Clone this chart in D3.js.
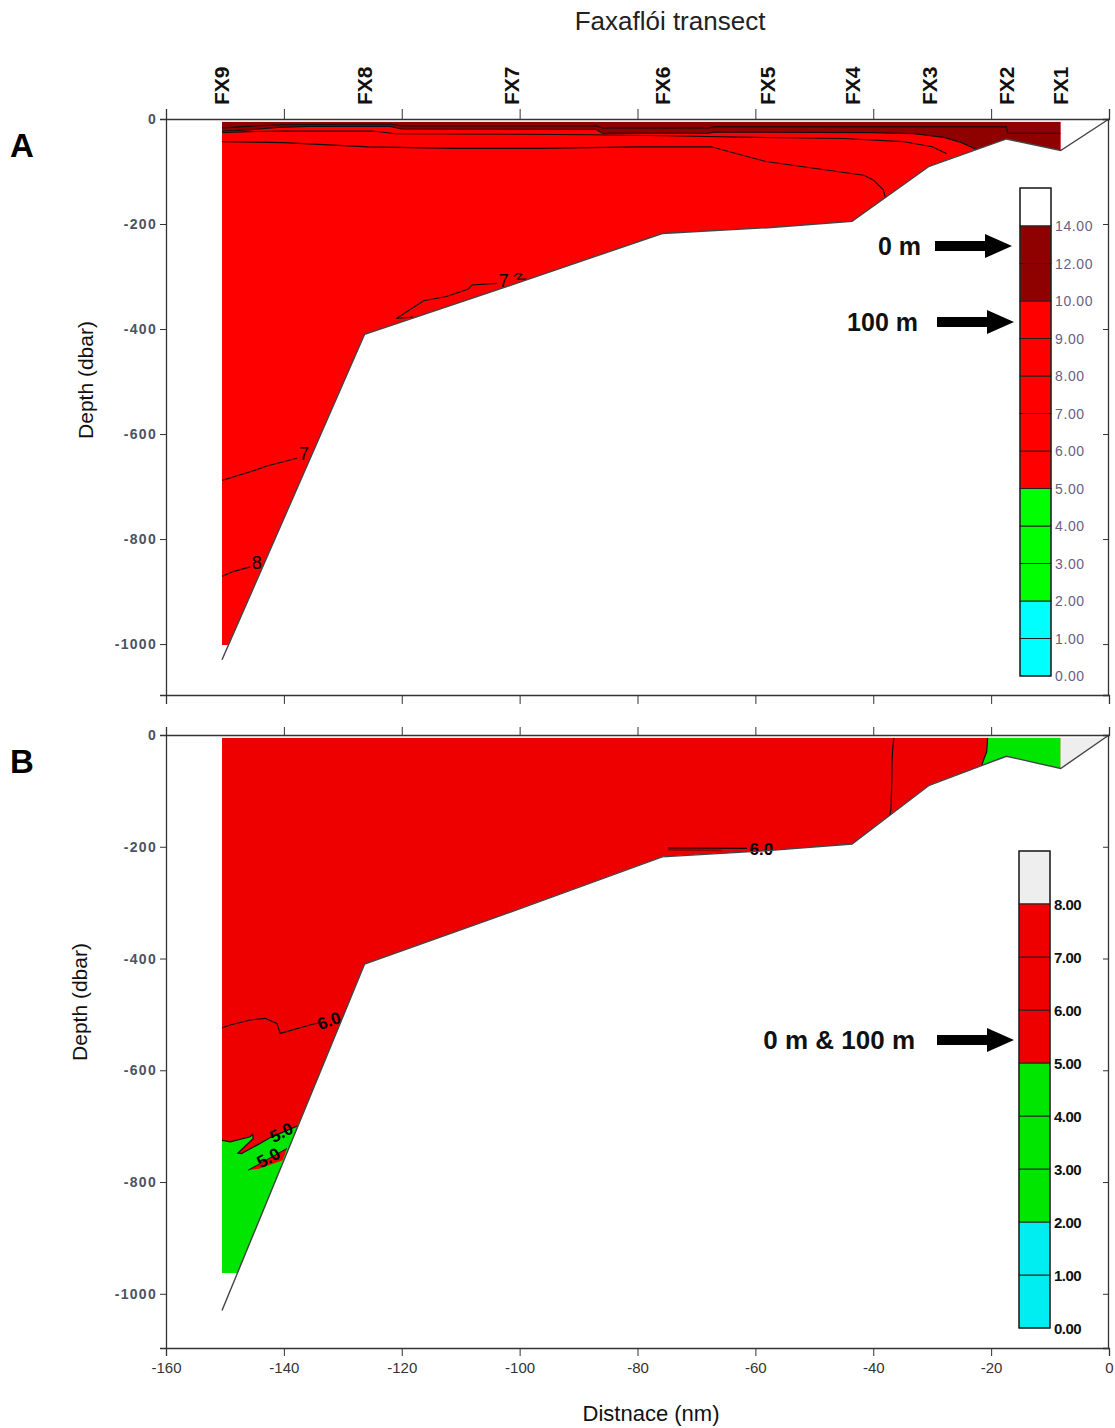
<!DOCTYPE html>
<html><head><meta charset="utf-8">
<script src="https://cdn.jsdelivr.net/npm/d3@7"></script>
<style>body{margin:0;background:#fff;} svg{display:block;font-family:"Liberation Sans",Arial,sans-serif;}</style>
</head><body><svg id="c" width="1115" height="1428"></svg>
<script>
// ---------- DATA ----------
const stationNames = ["FX9","FX8","FX7","FX6","FX5","FX4","FX3","FX2","FX1"];
const stationDist  = [-150.5,-126.3,-101.3,-75.8,-57.9,-43.6,-30.5,-17.4,-8.2];
const bathyDist  = [-150.5,-126.3,-101.3,-75.8,-57.9,-43.6,-30.5,-17.4,-8.2,0];
const bathyDepth = [-1030,-410,-316,-218,-207,-195,-90,-38,-60,0];
const xTicks = [-160,-140,-120,-100,-80,-60,-40,-20,0];
const yTicks = [0,-200,-400,-600,-800,-1000];

// legend A
const legendALevels = [0,1,2,3,4,5,6,7,8,9,10,12,14];
const legendAColors = ["#00ffff","#00ffff","#00ff00","#00ff00","#00ff00","#ff0000","#ff0000","#ff0000","#ff0000","#ff0000","#8f0000","#8f0000","#ffffff"];
// legend B
const legendBLevels = [0,1,2,3,4,5,6,7,8];
const legendBColors = ["#00eef2","#00eef2","#00e600","#00e600","#00e600","#ee0000","#ee0000","#ee0000","#eeeeee"];

// Panel A: surface (>10) region lower boundary, contours [distance nm, depth dbar]
const aWarmBoundary = [[-150.5,-23],[-146,-21],[-141,-16],[-136,-14],[-122,-14],[-120,-19],[-87,-20],[-86,-27],[-68,-27],[-67,-25],[-40,-26],[-33,-28],[-28,-35],[-25,-45],[-22.5,-58]];
const aContour12 = [[-150.5,-17],[-146,-14],[-141,-11],[-130,-10],[-122,-10],[-120,-13],[-87,-13],[-86,-17],[-68,-17],[-67,-15],[-17.4,-15],[-17.2,-27],[-8.2,-27]];
const aContour9 = [[-150.5,-26],[-146,-24],[-140,-23],[-125,-23],[-121,-28],[-100,-29],[-88,-30],[-75,-32],[-60,-35],[-45,-37],[-35,-43],[-30,-53],[-27.5,-66]];
const aContour8s = [[-150.7,-43],[-140,-45],[-125.7,-53],[-111,-56],[-96.5,-56],[-80,-53],[-67.5,-53],[-65.5,-59],[-58.2,-81],[-51.9,-91],[-41.6,-107],[-40,-116],[-38.3,-135],[-37.8,-155]];
const aContour7a = [[-150.7,-689],[-145.7,-672],[-142.9,-661],[-137.8,-646]];
const aContour8d = [[-150.7,-872],[-148.6,-862],[-145.7,-853]];
const aContour7b = [[-118,-377],[-120.9,-380],[-116.3,-346],[-112.4,-338],[-108.7,-324],[-108.1,-316],[-103.9,-313]];
const aContour7c = [[-101,-300],[-100.3,-294],[-99.6,-296],[-100.4,-305],[-98.8,-305]];
const aLabels = [{t:"7",d:-136.6,z:-638},{t:"8",d:-144.6,z:-846},{t:"7",d:-102.7,z:-308}];

// Panel B
const bGreenRight = [[-20.6,-5],[-8.2,-5],[-8.2,-60],[-17.4,-38],[-21.6,-55],[-21.2,-42],[-20.75,-30]];
const bContour5Right = [[-20.6,-5],[-20.75,-30],[-21.2,-42],[-21.6,-55]];
const bGreyRight = [[-8.2,-5],[-0.7,-5],[-8.2,-60]];
const bContour6Vert = [[-36.5,-5],[-36.7,-25],[-36.8,-45],[-36.9,-100],[-37.0,-132],[-37.2,-144]];
const bContour6Mid = [[-74.8,-202],[-61.4,-203]];
const bWarmStrip = [[-74.8,-203],[-65.7,-205],[-65.7,-208],[-74.8,-207]];
const bContour6Left = [[-150.8,-525],[-149.1,-519],[-145.7,-510],[-143.2,-507],[-141.2,-516],[-140.6,-534],[-135.6,-519],[-134,-515]];
const bGreenTop = [[-150.8,-725],[-149.1,-728],[-145.7,-719],[-145.3,-715],[-145.2,-722],[-147.8,-748],[-147.2,-749],[-144.4,-733],[-142.2,-720],[-137.8,-700]];
const bRedPocket = [[-146.1,-779],[-139.5,-740],[-140.2,-761],[-144.2,-776]];
const bLabels = [{t:"6.0",d:-132.3,z:-512,r:-20},{t:"5.0",d:-140.4,z:-712,r:-28},{t:"5.0",d:-142.6,z:-757,r:-28},{t:"6.0",d:-59.0,z:-205,r:0}];

// ---------- DRAW ----------
const svg = d3.select("#c");
const x = d3.scaleLinear().domain([-160,0]).range([166,1109]);
const yA = d3.scaleLinear().domain([0,-1097]).range([119,695]);
const yB = d3.scaleLinear().domain([0,-1097]).range([735,1348]);
const bathy = bathyDist.map((d,i)=>[d,bathyDepth[i]]);
const fmt = d => String(d);

function slopeAt(depth){
  const s = d3.scaleLinear().domain([bathyDepth[0],bathyDepth[1]]).range([bathyDist[0],bathyDist[1]]);
  return s(depth);
}
function waterPoly(bottom){
  const top=-5;
  const pts=[[stationDist[0],top],[stationDist[8],top]];
  for(let i=8;i>=1;i--) pts.push(bathy[i]);
  pts.push([slopeAt(bottom),bottom]);
  pts.push([stationDist[0],bottom]);
  return pts;
}

function panel(y, id, bottom, redColor){
  const g = svg.append("g");
  const line = d3.line().x(p=>x(p[0])).y(p=>y(p[1]));
  const poly = waterPoly(bottom);
  svg.append("defs").append("clipPath").attr("id",id).append("path").attr("d",line(poly)+"Z");
  const cg = g.append("g").attr("clip-path",`url(#${id})`);
  cg.append("path").attr("d",line(poly)+"Z").attr("fill",redColor);
  return {g,cg,line};
}

function axes(y, top, topTicks){
  const g = svg.append("g");
  const L=166,R=1108;
  g.append("g").attr("transform",`translate(${L},0)`).call(d3.axisLeft(y).tickValues(yTicks).tickSize(6).tickPadding(3).tickFormat(fmt))
    .call(s=>{s.select(".domain").attr("stroke","#333").attr("stroke-width",1.3);
      s.selectAll(".tick line").attr("stroke","#333");
      s.selectAll("text").attr("font-size",14).attr("fill","#4c5260").attr("font-weight","bold").attr("letter-spacing","1.3px").attr("font-family","'Liberation Sans',Arial");});
  g.append("g").attr("transform",`translate(${R},0)`).call(d3.axisLeft(y).tickValues(yTicks).tickSize(5).tickFormat(""))
    .call(s=>{s.select(".domain").attr("stroke","#333").attr("stroke-width",1.3);s.selectAll(".tick line").attr("stroke","#333");});
  g.append("g").attr("transform",`translate(0,${top})`).call(d3.axisTop(x).tickValues(xTicks).tickSize(topTicks).tickFormat(""))
    .call(s=>{s.select(".domain").attr("stroke","#333").attr("stroke-width",1.3);s.selectAll(".tick line").attr("stroke","#333");});
  return g;
}

// Title + stations
svg.append("text").attr("x",670).attr("y",30).attr("text-anchor","middle").attr("font-size",26).attr("fill","#222").text("Faxaflói transect");
stationNames.forEach((n,i)=>{
  svg.append("text").attr("transform",`translate(${x(stationDist[i])},105) rotate(-90)`)
    .attr("dominant-baseline","central").attr("font-size",21).attr("font-weight","bold").attr("fill","#111").text(n);
});

// ----- Panel A -----
const A = panel(yA,"clipA",-1002,"#ff0000");
const warmPolyA = [[-150.5,-5],[-8.2,-5],[-8.2,-60],[-17.4,-38]].concat(aWarmBoundary.slice().reverse());
A.cg.append("path").attr("d",A.line(warmPolyA)+"Z").attr("fill","#8f0000");
[aWarmBoundary,aContour12,aContour9,aContour8s,aContour7a,aContour8d,aContour7b,aContour7c].forEach(c=>{
  A.cg.append("path").attr("d",A.line(c)).attr("fill","none").attr("stroke","#111").attr("stroke-width",1.1);
});
aLabels.forEach(l=>{
  svg.append("text").attr("x",x(l.d)).attr("y",yA(l.z)).attr("text-anchor","middle").attr("dominant-baseline","central")
    .attr("font-size",18).attr("fill","#000").text(l.t);
});
svg.append("path").attr("d",A.line(bathy)).attr("fill","none").attr("stroke","#444").attr("stroke-width",1.4);
axes(yA,119,10);
svg.append("g").attr("transform","translate(0,695)").call(d3.axisBottom(x).tickValues(xTicks).tickSize(9).tickFormat(""))
  .call(s=>{s.select(".domain").attr("stroke","#333").attr("stroke-width",1.3);s.selectAll(".tick line").attr("stroke","#333");});

// ----- Panel B -----
const B = panel(yB,"clipB",-963,"#ee0000");
B.cg.append("path").attr("d",B.line(bGreenRight)+"Z").attr("fill","#00e600");
const greenPolyB = bGreenTop.concat([[-128,-700],[-128,-1000],[-151,-1000]]);
B.cg.append("path").attr("d",B.line(greenPolyB)+"Z").attr("fill","#00e600");
B.cg.append("path").attr("d",B.line(bRedPocket)+"Z").attr("fill","#ee0000");
B.cg.append("path").attr("d",B.line(bWarmStrip)+"Z").attr("fill","#a00000");
svg.append("path").attr("d",B.line(bGreyRight)+"Z").attr("fill","#eeeeee");
[bContour5Right,bContour6Vert,bContour6Mid,bContour6Left,bGreenTop].forEach(c=>{
  B.cg.append("path").attr("d",B.line(c)).attr("fill","none").attr("stroke","#111").attr("stroke-width",1.2);
});
B.cg.append("path").attr("d",B.line(bRedPocket.slice(0,2))).attr("fill","none").attr("stroke","#111").attr("stroke-width",1);
bLabels.forEach(l=>{
  svg.append("text").attr("transform",`translate(${x(l.d)},${yB(l.z)}) rotate(${l.r})`).attr("text-anchor","middle").attr("dominant-baseline","central")
    .attr("font-size",17).attr("font-weight","bold").attr("fill","#000").text(l.t);
});
svg.append("path").attr("d",B.line(bathy)).attr("fill","none").attr("stroke","#444").attr("stroke-width",1.4);
axes(yB,735,8);
svg.append("g").attr("transform","translate(0,1348)").call(d3.axisBottom(x).tickValues(xTicks).tickSize(8).tickPadding(6).tickFormat(fmt))
  .call(s=>{s.select(".domain").attr("stroke","#333").attr("stroke-width",1.3);s.selectAll(".tick line").attr("stroke","#333");
    s.selectAll("text").attr("font-size",15).attr("fill","#333").attr("font-family","'Liberation Sans',Arial");});

// axis titles
svg.append("text").attr("transform","translate(93,380) rotate(-90)").attr("text-anchor","middle").attr("font-size",21).attr("fill","#111").text("Depth (dbar)");
svg.append("text").attr("transform","translate(87,1002) rotate(-90)").attr("text-anchor","middle").attr("font-size",21).attr("fill","#111").text("Depth (dbar)");
svg.append("text").attr("x",651).attr("y",1421).attr("text-anchor","middle").attr("font-size",22).attr("fill","#111").text("Distnace (nm)");
svg.append("text").attr("x",10).attr("y",157).attr("font-size",33).attr("font-weight","bold").attr("fill","#000").text("A");
svg.append("text").attr("x",10).attr("y",773).attr("font-size",33).attr("font-weight","bold").attr("fill","#000").text("B");

// ----- Legends -----
function legend(levels, colors, x0, yTop, yBottom, topPad, textStyle){
  const n = levels.length;
  const ly = d3.scaleLinear().domain([0,n-1]).range([yBottom,yTop+topPad]);
  const g = svg.append("g");
  g.append("rect").attr("x",x0).attr("y",yTop).attr("width",31).attr("height",ly(n-1)-yTop).attr("fill",colors[n-1]).attr("stroke","#222");
  for(let i=0;i<n-1;i++){
    g.append("rect").attr("x",x0).attr("y",ly(i+1)).attr("width",31).attr("height",ly(i)-ly(i+1)).attr("fill",colors[i]).attr("stroke","#222").attr("stroke-width",1);
  }
  levels.forEach((v,i)=>{
    const t=g.append("text").attr("x",x0+35).attr("y",ly(i)).attr("dominant-baseline","central").text(v.toFixed(2));
    textStyle(t);
  });
  g.append("rect").attr("x",x0).attr("y",yTop).attr("width",31).attr("height",yBottom-yTop).attr("fill","none").attr("stroke","#222").attr("stroke-width",1.2);
}
legend(legendALevels,legendAColors,1020,188,676,38,t=>t.attr("font-size",14).attr("fill","#6a6088").attr("letter-spacing","0.6px"));
legend(legendBLevels,legendBColors,1019,851,1328,53,t=>t.attr("font-size",15).attr("font-weight","bold").attr("fill","#111").attr("letter-spacing","-0.5px"));

// annotations with arrows
function arrow(xText, y, text, x0, fs){
  svg.append("text").attr("x",xText).attr("y",y).attr("text-anchor","end").attr("dominant-baseline","central")
    .attr("font-size",fs).attr("font-weight","bold").attr("fill","#111").text(text);
  const p = d3.path();
  p.moveTo(x0,y-5); p.lineTo(x0+50,y-5); p.lineTo(x0+50,y-12); p.lineTo(x0+77,y); p.lineTo(x0+50,y+12); p.lineTo(x0+50,y+5); p.lineTo(x0,y+5); p.closePath();
  svg.append("path").attr("d",p.toString()).attr("fill","#000");
}
arrow(921,246,"0 m",935,25);
arrow(918,322,"100 m",937,25);
arrow(915,1040,"0 m & 100 m",937,26);
</script></body></html>
